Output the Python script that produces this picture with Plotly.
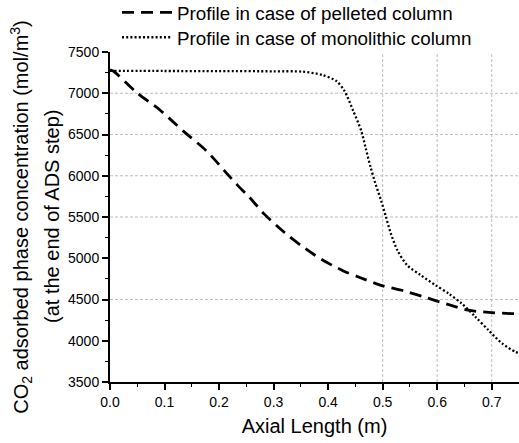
import plotly.graph_objects as go

# Pelleted column profile (dashed)
x_pel = [0.0, 0.006, 0.049, 0.091, 0.134, 0.177, 0.210, 0.232, 0.256, 0.283, 0.320, 0.351,
         0.387, 0.427, 0.458, 0.500, 0.539, 0.579, 0.618, 0.657, 0.700, 0.736, 0.75]
y_pel = [7285, 7270, 7007, 6800, 6544, 6301, 6059, 5898, 5736, 5535, 5312, 5151,
         4990, 4849, 4767, 4666, 4605, 4524, 4443, 4370, 4341, 4329, 4327]

# Monolithic column profile (dotted)
x_mono = [0.0, 0.10, 0.20, 0.30, 0.353, 0.389, 0.415, 0.430, 0.446, 0.461, 0.469, 0.478,
          0.487, 0.497, 0.506, 0.515, 0.527, 0.545, 0.570, 0.597, 0.621, 0.645, 0.670,
          0.694, 0.719, 0.743, 0.75]
y_mono = [7272, 7270, 7268, 7266, 7262, 7222, 7149, 7028, 6786, 6540, 6330, 6100,
          5899, 5702, 5500, 5299, 5097, 4915, 4794, 4673, 4572, 4451, 4290,
          4128, 3967, 3866, 3850]

names = ["Profile in case of pelleted column", "Profile in case of monolithic column"]

x_ticks = [0.0, 0.1, 0.2, 0.3, 0.4, 0.5, 0.6, 0.7]
x_ticklabels = ["0.0", "0.1", "0.2", "0.3", "0.4", "0.5", "0.6", "0.7"]
y_ticks = [3500, 4000, 4500, 5000, 5500, 6000, 6500, 7000, 7500]

grid_x = [0.5, 0.6, 0.7]
grid_y = [4500, 5500, 6000, 6500, 7000]

y_title = "CO<sub>2</sub> adsorbed phase concentration (mol/m<sup>3</sup>)"
y_subtitle = "(at the end of ADS step)"
x_title = "Axial Length (m)"

FONT = "Arial, 'Liberation Sans', sans-serif"

fig = go.Figure()
fig.add_trace(go.Scatter(x=x_pel, y=y_pel, mode="lines", name=names[0], legend="legend",
                         line=dict(color="black", width=2.8, dash="12px,7px", shape="spline", smoothing=0.8)))
fig.add_trace(go.Scatter(x=x_mono, y=y_mono, mode="lines", name=names[1], legend="legend2",
                         line=dict(color="black", width=2.3, dash="2px,2.2px", shape="spline", smoothing=0.8)))

for gx in grid_x:
    fig.add_shape(type="line", xref="x", yref="paper", x0=gx, x1=gx, y0=0, y1=1,
                  line=dict(color="#bdbdbd", width=1, dash="3px,2px"), layer="below")
for gy in grid_y:
    fig.add_shape(type="line", xref="paper", yref="y", x0=0, x1=1, y0=gy, y1=gy,
                  line=dict(color="#bdbdbd", width=1, dash="3px,2px"), layer="below")

# second line of the y-axis title
fig.add_annotation(text=y_subtitle, xref="paper", yref="paper", x=-0.1418, y=0.5,
                   xanchor="center", yanchor="middle", textangle=-90, showarrow=False,
                   font=dict(size=20, family=FONT, color="black"))

legend_common = dict(xanchor="left", yanchor="middle",
                     font=dict(size=18.8, family=FONT, color="black"),
                     bgcolor="rgba(0,0,0,0)", itemwidth=50, borderwidth=0)

fig.update_layout(
    width=519, height=443,
    margin=dict(l=110, r=0, t=51.5, b=61, autoexpand=False),
    paper_bgcolor="white", plot_bgcolor="rgba(0,0,0,0)",
    font=dict(family=FONT, color="black", size=14),
    showlegend=True,
    legend=dict(x=0.0171, y=1.1195, **legend_common),
    legend2=dict(x=0.0171, y=1.0439, **legend_common),
    xaxis=dict(range=[0, 0.75], tickvals=x_ticks, ticktext=x_ticklabels,
               showline=True, linecolor="black", linewidth=2,
               ticks="outside", ticklen=6, tickwidth=1.5, tickcolor="black",
               minor=dict(ticks="outside", ticklen=3, tickwidth=1.2, tickcolor="black", dtick=0.05, showgrid=False),
               showgrid=False, zeroline=False,
               tickfont=dict(size=14),
               title=dict(text=x_title, font=dict(size=20), standoff=10)),
    yaxis=dict(range=[3500, 7500], tickvals=y_ticks,
               showline=True, linecolor="black", linewidth=2,
               ticks="outside", ticklen=6, tickwidth=1.5, tickcolor="black",
               minor=dict(ticks="outside", ticklen=3, tickwidth=1.2, tickcolor="black", dtick=250, showgrid=False),
               showgrid=False, zeroline=False,
               tickfont=dict(size=14),
               title=dict(text=y_title, font=dict(size=20), standoff=34)),
)

fig.write_html("out.html", config={"displayModeBar": False},
               post_script="document.body.style.margin='0';document.body.style.overflow='hidden';")
